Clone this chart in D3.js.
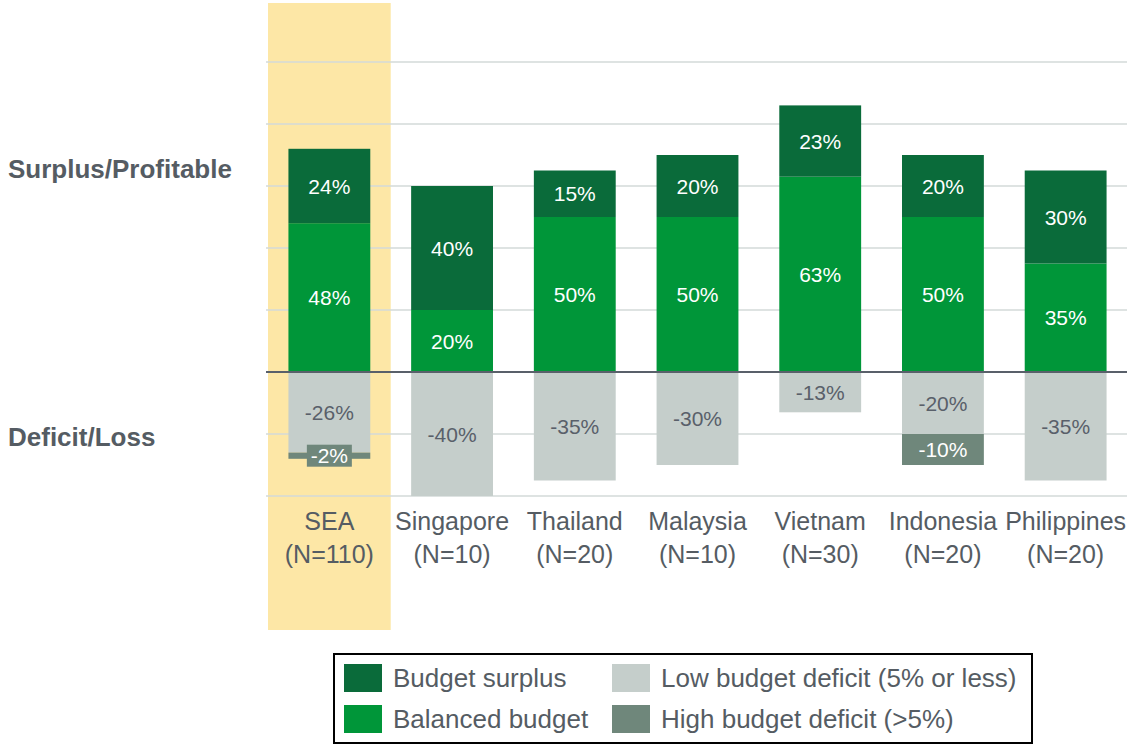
<!DOCTYPE html>
<html><head><meta charset="utf-8">
<script src="https://cdn.jsdelivr.net/npm/d3@7"></script>
<style>
html,body{margin:0;padding:0;background:#fff;}
svg{display:block;font-family:"Liberation Sans",Arial,sans-serif;}
</style></head>
<body><svg id="c" width="1127" height="746"></svg>
<script>
const categories = ["SEA","Singapore","Thailand","Malaysia","Vietnam","Indonesia","Philippines"];
const sampleSizes = ["(N=110)","(N=10)","(N=20)","(N=10)","(N=30)","(N=20)","(N=20)"];
const surplus = [24,40,15,20,23,20,30];
const balanced = [48,20,50,50,63,50,35];
const lowDeficit = [-26,-40,-35,-30,-13,-20,-35];
const highDeficit = [-2,0,0,0,0,-10,0];
const gridTicks = [-40,-20,20,40,60,80,100];
const seriesNames = ["Budget surplus","Balanced budget","Low budget deficit (5% or less)","High budget deficit (>5%)"];
const colors = ["#0a6b3a","#009639","#c5cecb","#6f877b"];

const svg = d3.select("#c");
const x = d3.scaleBand().domain(categories).range([268,1127]).paddingInner(0.333).paddingOuter(0.1665);
const y = d3.scaleLinear().domain([-40,120]).range([496,0]);

// highlight
svg.append("rect").attr("x",268).attr("y",3).attr("width",x.step()).attr("height",627).attr("fill","#fde7a6");

// gridlines
svg.append("g").selectAll("line").data(gridTicks).join("line")
  .attr("x1",266).attr("x2",1127).attr("y1",d=>y(d)).attr("y2",d=>y(d))
  .attr("stroke","#d3dad8").attr("stroke-width",1.3);

const segs = [];
categories.forEach((c,i)=>{
  segs.push({c,s:0,y0:0,y1:balanced[i],v:balanced[i]});
  segs.push({c,s:1,y0:balanced[i],y1:balanced[i]+surplus[i],v:surplus[i]});
  segs.push({c,s:2,y0:0,y1:lowDeficit[i],v:lowDeficit[i]});
  if(highDeficit[i]) segs.push({c,s:3,y0:lowDeficit[i],y1:lowDeficit[i]+highDeficit[i],v:highDeficit[i]});
});
const colorOf = s => s===0?colors[1]:s===1?colors[0]:s===2?colors[2]:colors[3];

svg.append("g").selectAll("rect").data(segs).join("rect")
  .attr("x",d=>x(d.c)).attr("width",x.bandwidth())
  .attr("y",d=>y(Math.max(d.y0,d.y1))).attr("height",d=>Math.abs(y(d.y0)-y(d.y1)))
  .attr("fill",d=>colorOf(d.s));

// zero line
svg.append("line").attr("x1",266).attr("x2",1127).attr("y1",y(0)).attr("y2",y(0))
  .attr("stroke","#59606a").attr("stroke-width",2);

// labels
const lab = svg.append("g").attr("font-size",21).attr("text-anchor","middle");
segs.forEach(d=>{
  const cx = x(d.c)+x.bandwidth()/2;
  const cy = (y(d.y0)+y(d.y1))/2;
  if(d.s===3 && Math.abs(d.v)<5){
    lab.append("rect").attr("x",cx-22.5).attr("y",cy-11).attr("width",45).attr("height",22).attr("fill",colors[3]);
  }
  lab.append("text").attr("x",cx).attr("y",cy).attr("dy","0.36em")
    .attr("fill", d.s===2?"#59606a":"#ffffff").text(d.v+"%");
});

// category labels
const cat = svg.append("g").attr("font-size",25).attr("fill","#555c63").attr("text-anchor","middle");
categories.forEach((c,i)=>{
  const cx = x(c)+x.bandwidth()/2;
  cat.append("text").attr("x",cx).attr("y",530).text(c);
  cat.append("text").attr("x",cx).attr("y",563).text(sampleSizes[i]);
});

// side labels
svg.append("text").attr("x",8).attr("y",178).attr("font-size",26).attr("font-weight","bold").attr("fill","#555c63").text("Surplus/Profitable");
svg.append("text").attr("x",8).attr("y",446).attr("font-size",26).attr("font-weight","bold").attr("fill","#555c63").text("Deficit/Loss");

// legend
svg.append("rect").attr("x",334).attr("y",654).attr("width",698).attr("height",89).attr("fill","#fff").attr("stroke","#000").attr("stroke-width",2);
const legPos = [[344,664],[344,705],[612,664],[612,705]];
[0,1,2,3].forEach((s,k)=>{
  const [lx,ly] = legPos[k];
  svg.append("rect").attr("x",lx).attr("y",ly).attr("width",38).attr("height",28).attr("fill",colors[s]);
  svg.append("text").attr("x",lx+49).attr("y",ly+14).attr("dy","0.36em").attr("font-size",26).attr("fill","#555c63").text(seriesNames[s]);
});
</script></body></html>
